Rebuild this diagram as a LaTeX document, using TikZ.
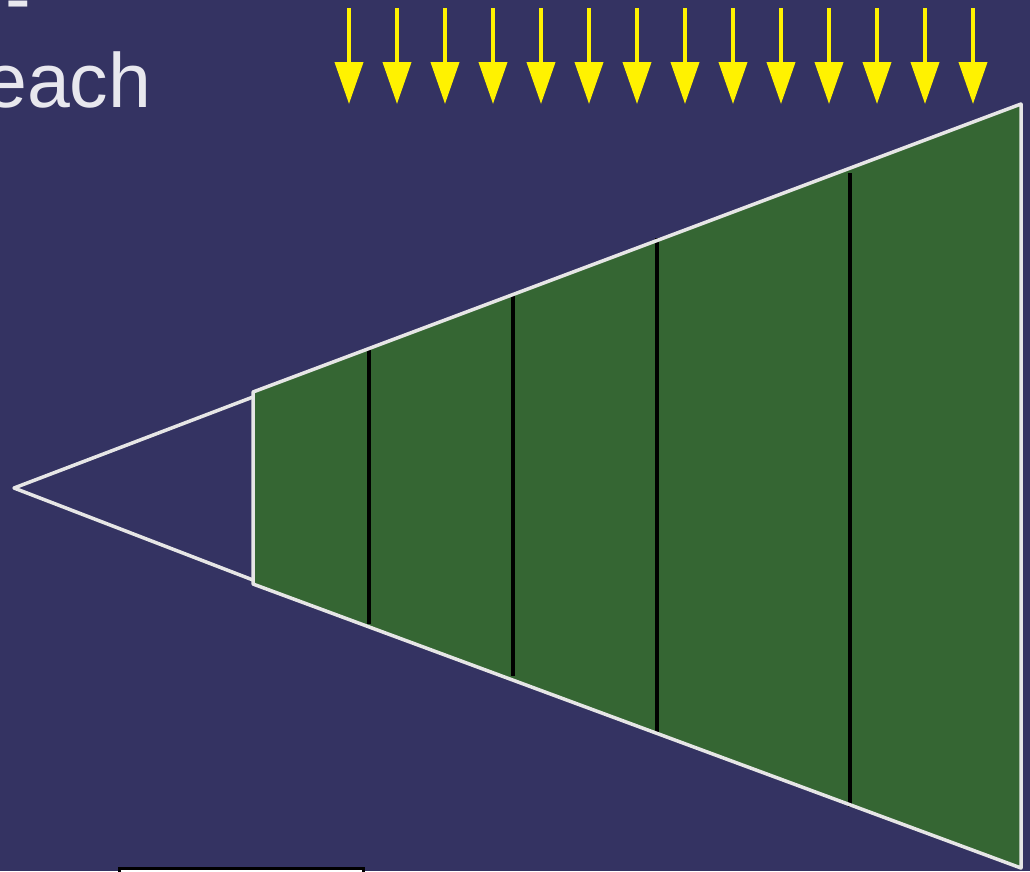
\documentclass[tikz,border=0pt]{standalone}
\usepackage{fontspec}
\setmainfont{Liberation Sans}
\usetikzlibrary{arrows.meta}
\definecolor{slidebg}{HTML}{343362}
\definecolor{leafgreen}{HTML}{356633}
\definecolor{rimwhite}{HTML}{E6E6E6}
\definecolor{txtgray}{HTML}{E8E8EE}

\begin{document}
\begin{tikzpicture}[x=1pt,y=-1pt,
  rim/.style={draw=rimwhite,line width=3.5pt,line join=round},
  cut/.style={draw=black,line width=3.5pt},
  ray/.style={draw=yellow,line width=4pt,-{Triangle[width=28pt,length=42pt]}},
  big/.style={text=txtgray,font=\fontsize{77}{92}\selectfont,inner sep=0pt}]
\useasboundingbox (0,0) rectangle (1030,871);
\clip (0,0) rectangle (1030,871);
\fill[slidebg] (0,0) rectangle (1030,871);
% text cut off by the slide edge
\node[big,anchor=base west] (hyph) at (5,24.3) {-};
\node[big,anchor=base west] (each) at (-16,107) {each};
% light rays
\foreach \x in {349,397,...,973}
  \draw[ray] (\x,8) -- (\x,104);
% cone
\coordinate (apex) at (14,488);
\draw[rim] (253,397) -- (apex) -- (253,580);
\fill[leafgreen] (253,392) -- (1021,104) -- (1021,868) -- (253,584) -- cycle;
\draw[cut] (369,349) -- (369,624);
\draw[cut] (513,295) -- (513,676);
\draw[cut] (657,238) -- (657,733);
\draw[cut] (850,173) -- (850,807);
\draw[rim] (253,392) -- (1021,104) -- (1021,868) -- (253,584) -- cycle;
% box at the bottom edge
\draw[black,fill=white,line width=3pt] (119.2,868.2) rectangle (363.5,900);
\end{tikzpicture}
\end{document}
